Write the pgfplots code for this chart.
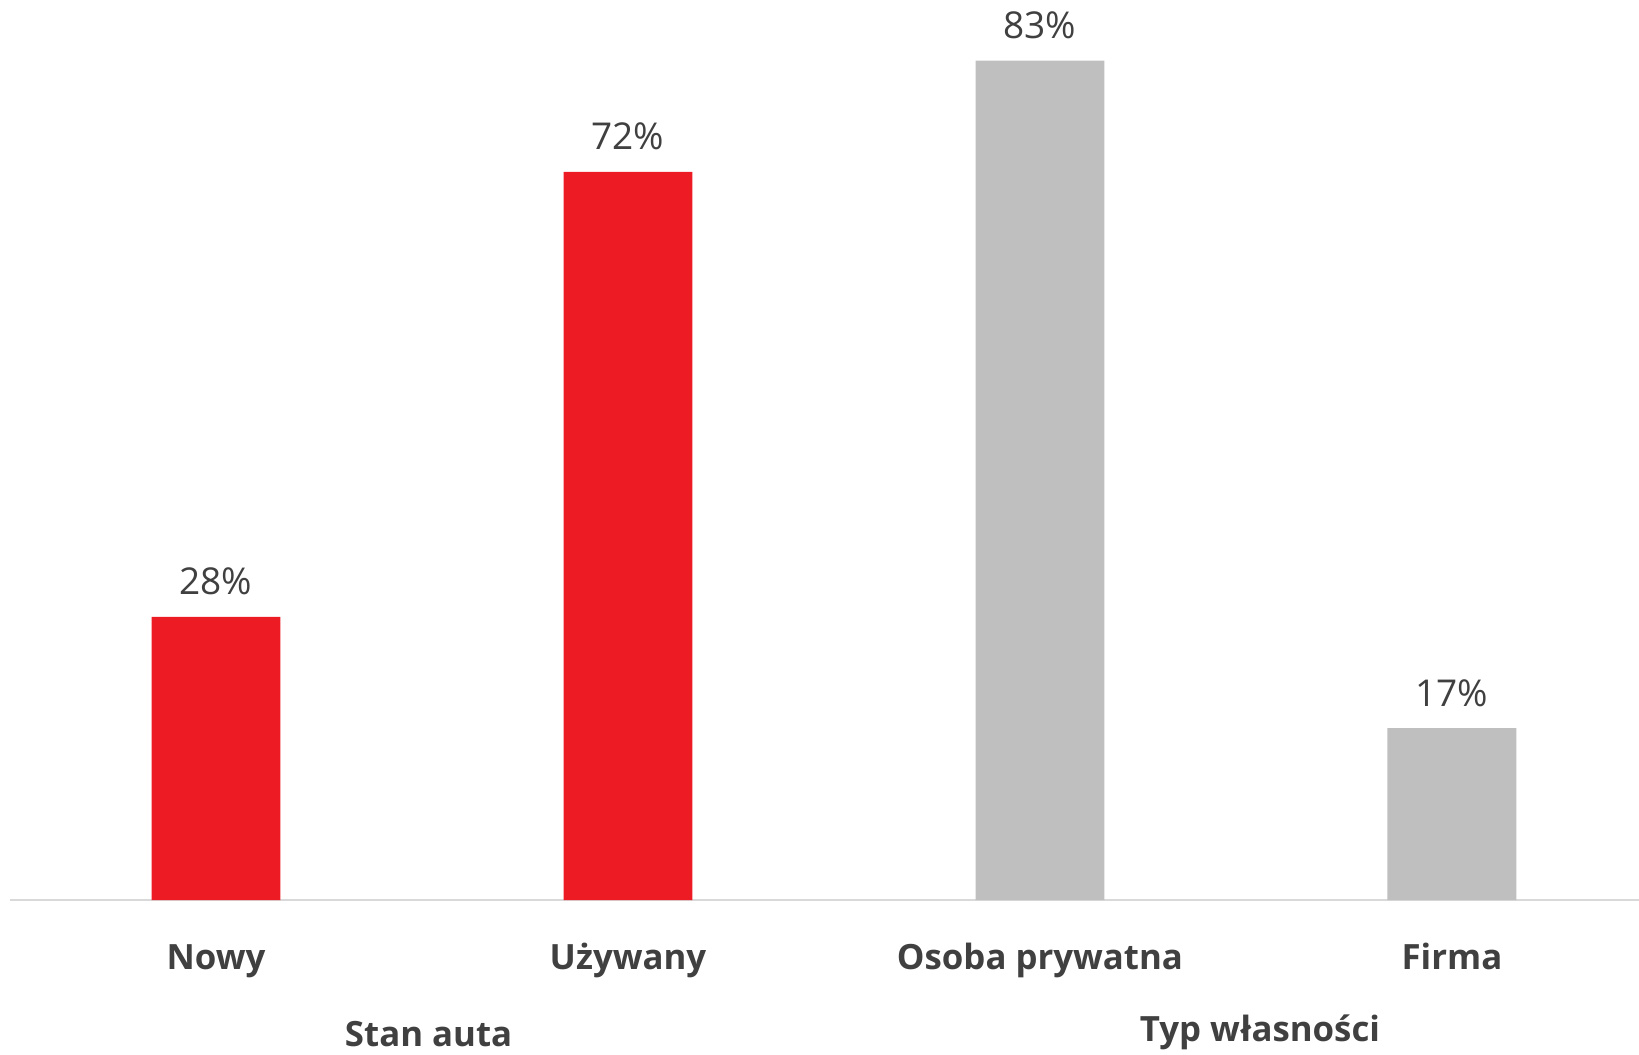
\documentclass[border=0pt]{standalone}
\usepackage{pgfplots}
\pgfplotsset{compat=1.18}
\usepackage{fontspec}
\setmainfont{Open Sans}
\definecolor{redbar}{HTML}{ED1C24}
\definecolor{graybar}{HTML}{BFBFBF}
\definecolor{txt}{HTML}{404040}
\definecolor{axisline}{HTML}{D9D9D9}
\begin{document}
\begin{tikzpicture}
\useasboundingbox (-5pt,-77.5pt) rectangle (814.5pt,450pt);
\begin{axis}[
  scale only axis,
  width=814.5pt, height=450pt,
  xmin=-0.5, xmax=3.454,
  ymin=0, ymax=89,
  axis x line*=bottom,
  hide y axis,
  x axis line style={draw=axisline, line width=1pt, -},
  clip=false,
  /pgf/number format/assume math mode=true,
  ybar, bar width=0.313, bar shift=0pt,
  xtick={0,1,2,3},
  xticklabels={Nowy,Używany,Osoba prywatna,Firma},
  xticklabel style={font=\fontsize{17.4}{19}\selectfont\bfseries, text=txt, anchor=base, yshift=-34.5pt},
  major tick length=0pt,
  xtick style={draw=none},
  nodes near coords={\pgfmathprintnumber{\pgfplotspointmeta}\%},
  every node near coord/.append style={font=\fontsize{18.5}{21}\selectfont, text=txt, anchor=base, yshift=11pt},
]
\addplot[fill=redbar, draw=none] coordinates {(0,28) (1,72)};
\addplot[fill=graybar, draw=none] coordinates {(2,83) (3,17)};
\end{axis}
\node[anchor=base, text=txt, font=\fontsize{17.4}{19}\selectfont\bfseries] at (209.3pt,-73.3pt) {Stan auta};
\node[anchor=base, text=txt, font=\fontsize{17.4}{19}\selectfont\bfseries] at (625pt,-70.5pt) {Typ własności};
\end{tikzpicture}
\end{document}
